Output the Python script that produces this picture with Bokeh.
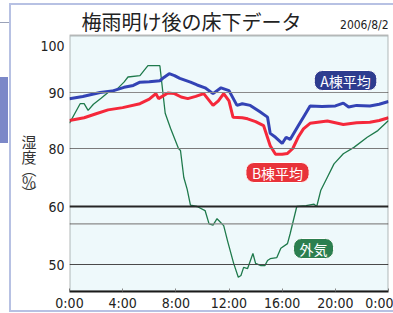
import numpy as np
from bokeh.plotting import figure
from bokeh.models import Span, Label, FixedTicker, LinearAxis, BoxAnnotation
from bokeh.embed import file_html
from bokeh.resources import INLINE

# ---------------- data ----------------
title_text = "梅雨明け後の床下データ"
date_text = "2006/8/2"
y_title_chars = ["湿", "度", "︵", "％", "︶"]

x_ticks = [0, 4, 8, 12, 16, 20, 24]
x_tick_labels = ["0:00", "4:00", "8:00", "12:00", "16:00", "20:00", "0:00"]
y_tick_values = [50, 60, 80, 90, 100]
grid_values = [90, 80, 60, 57, 50]

series_names = ["A棟平均", "B棟平均", "外気"]

a_hours = [0, 1.0, 2.3, 3.2, 4.1, 4.8, 5.3, 6.0, 6.8, 7.1, 7.5, 7.9, 8.3, 9.1, 9.6,
           10.2, 10.8, 11.4, 12.0, 12.6, 13.0, 13.6, 14.3, 14.9, 15.1, 15.5, 16.0,
           16.3, 16.6, 17.2, 17.7, 18.1, 19.0, 20.0, 20.6, 21.0, 21.6, 22.6, 23.3, 24]
a_vals = [88.9, 89.3, 90.0, 90.3, 91.1, 91.5, 92.2, 92.3, 92.5, 93.2, 94.0, 93.6, 93.0,
          92.2, 91.6, 91.0, 89.8, 91.0, 90.4, 87.7, 88.0, 87.7, 86.6, 85.6, 82.7, 82.0,
          80.9, 82.0, 81.6, 84.0, 86.0, 87.6, 87.5, 87.6, 88.1, 87.4, 87.7, 87.6, 87.9, 88.4]

b_hours = [0, 1.1, 2.0, 2.9, 4.0, 5.3, 6.0, 6.5, 6.7, 7.4, 7.9, 8.4, 8.9, 9.5, 10.1,
           10.8, 11.2, 11.6, 12.0, 12.3, 13.0, 13.4, 14.0, 14.6, 15.1, 15.5, 16.0,
           16.4, 16.8, 17.2, 17.6, 18.1, 19.4, 20.6, 21.6, 22.6, 23.3, 24]
b_vals = [85.0, 85.5, 86.2, 86.9, 87.3, 88.0, 88.8, 89.8, 88.9, 89.9, 89.8, 89.2, 88.9,
          89.3, 89.8, 87.7, 88.5, 89.8, 88.5, 85.6, 85.5, 85.3, 84.8, 84.1, 80.5, 78.0,
          78.0, 78.3, 80.0, 82.0, 83.5, 84.5, 84.9, 84.3, 84.6, 84.7, 85.0, 85.5]

o_hours = [0, 0.8, 1.1, 1.4, 1.8, 2.4, 2.9, 3.5, 4.1, 4.4, 5.3, 5.9, 6.8, 7.2, 7.6,
           8.2, 8.35, 8.6, 8.85, 9.1, 9.6, 10.2, 10.5, 10.8, 11.1, 11.6, 11.9, 12.35,
           12.7, 12.9, 13.1, 13.4, 13.8, 14.0, 14.4, 14.7, 14.9, 15.1, 15.6, 15.9, 16.4,
           16.6, 17.1, 17.8, 18.4, 18.6, 18.9, 19.4, 19.9, 20.6, 21.4, 22.4, 23.2, 24]
o_vals = [84.5, 88.0, 88.0, 86.8, 87.9, 89.0, 90.0, 90.5, 92.2, 93.3, 93.6, 95.7, 95.7,
          86.3, 83.6, 80.0, 79.3, 70.0, 66.0, 60.5, 60.0, 59.3, 57.0, 56.8, 57.9, 56.7,
          54.0, 50.2, 47.8, 48.1, 49.5, 49.3, 51.9, 50.2, 49.8, 49.8, 50.7, 51.0, 51.2,
          52.8, 53.6, 55.3, 60.0, 60.3, 60.8, 60.0, 65.5, 70.1, 74.7, 78.2, 80.2, 82.0,
          83.2, 85.0]

# broken (piecewise) humidity scale of the original chart
Y_VALUE_KNOTS = [40, 50, 60, 80, 90, 100, 110]
Y_DISPLAY_KNOTS = [-58, 0, 58, 116, 172, 219, 266]


def ymap(v):
    return np.interp(np.asarray(v, dtype=float), Y_VALUE_KNOTS, Y_DISPLAY_KNOTS)


NARROW = "DejaVu Sans Condensed"
CJK = "Noto Sans CJK JP"
PLOT_TOP = 229          # display units of the chart box top
Y_BOTTOM, Y_TOP = -27, 264

# page frame decoration (pure CSS background behind a transparent canvas)
frame_css = {
    "background-color": "white",
    "background-image": ", ".join(["linear-gradient(#7c88c8,#7c88c8)"]
                                  + ["linear-gradient(#b7c1e3,#b7c1e3)"] * 3
                                  + ["linear-gradient(#9aa2b8,#9aa2b8)"]),
    "background-size": "8px 66px, 2px 308px, 384px 2px, 384px 2px, 9px 1px",
    "background-position": "0px 77px, 9px 3px, 9px 3px, 9px 310px, 0px 22px",
    "background-repeat": "no-repeat",
}

p = figure(width=393, height=313, output_backend="svg", toolbar_location=None,
           x_range=(0, 24), y_range=(Y_BOTTOM, Y_TOP),
           min_border_left=69, min_border_right=5, min_border_top=0, min_border_bottom=22,
           background_fill_color=None, border_fill_color=None,
           outline_line_color=None, styles=frame_css)
p.xgrid.visible = False
p.ygrid.visible = False

# chart box background
p.add_layout(BoxAnnotation(left=0, right=24, bottom=Y_BOTTOM, top=PLOT_TOP,
                           fill_color="#eef9fb", fill_alpha=1, line_color=None,
                           level="underlay"))

# gridlines
grid_styles = {90: ("#8a8a8a", 1.2), 80: ("#7a7a7a", 1.2), 60: ("#262626", 2),
               57: ("#8a8a8a", 1.2), 50: ("#4a4a4a", 1.2)}
for g in grid_values:
    col, w = grid_styles[g]
    p.add_layout(Span(location=float(ymap(g)), dimension="width",
                      line_color=col, line_width=w))

# axes
p.yaxis.ticker = FixedTicker(ticks=[int(round(float(ymap(v)))) for v in y_tick_values])
p.yaxis.major_label_overrides = {int(round(float(ymap(v)))): str(v) for v in y_tick_values}
p.yaxis.major_tick_out = 0
p.yaxis.major_tick_in = 0
p.yaxis.minor_tick_line_color = None
p.yaxis.axis_line_color = None
p.yaxis.major_label_standoff = 5
p.yaxis.major_label_text_font = NARROW
p.yaxis.major_label_text_font_size = "14px"
p.yaxis.major_label_text_color = "#222222"

p.xaxis.ticker = FixedTicker(ticks=x_ticks)
p.xaxis.major_label_overrides = {t: l for t, l in zip(x_ticks, x_tick_labels)}
p.xaxis.major_tick_in = 3
p.xaxis.major_tick_out = 0
p.xaxis.major_tick_line_color = "#888888"
p.xaxis.minor_tick_line_color = None
p.xaxis.axis_line_width = 2
p.xaxis.axis_line_color = "#1a1a1a"
p.xaxis.major_label_standoff = 3
p.xaxis.major_label_text_font = NARROW
p.xaxis.major_label_text_font_size = "14px"
p.xaxis.major_label_text_color = "#222222"

# vertical (stacked) y-axis title, as an outer left axis
title_pos = [123, 108, 96, 83, 72]
ytitle_axis = LinearAxis(ticker=FixedTicker(ticks=title_pos),
                         major_label_overrides={t: c for t, c in zip(title_pos, y_title_chars)},
                         major_label_orientation="horizontal",
                         axis_line_color=None, major_tick_line_color=None,
                         minor_tick_line_color=None, major_tick_out=0, major_tick_in=0,
                         major_label_standoff=1, major_label_text_font=CJK,
                         major_label_text_font_size="15px", major_label_text_color="#333333")
p.add_layout(ytitle_axis, "left")

# series
p.line(o_hours, ymap(o_vals), line_color="#1f7a4c", line_width=1.3)
p.line(b_hours, ymap(b_vals), line_color="#f5283a", line_width=3)
p.line(a_hours, ymap(a_vals), line_color="#3343b5", line_width=3)

# chart box border
p.add_layout(BoxAnnotation(left=0, right=24, bottom=Y_BOTTOM, top=PLOT_TOP,
                           fill_color=None, line_color="#1a1a1a", line_width=2))

# pill labels
pills = [(series_names[0], 20.77, 184, "#2e3c8f"),
         (series_names[1], 15.65, 92, "#e8333a"),
         (series_names[2], 18.36, 16, "#2c7f4f")]
for txt, hx, dy, col in pills:
    p.add_layout(Label(x=hx, y=dy, text=txt, text_align="center", text_baseline="middle",
                       text_font=CJK, text_font_size="14px", text_color="white",
                       background_fill_color=col, border_line_color="white",
                       border_line_width=1, border_radius=8,
                       padding=dict(left=6, right=6, top=0, bottom=0)))

# title & date
p.add_layout(Label(x=9.18, y=243, text=title_text, text_align="center", text_baseline="middle",
                   text_font=CJK, text_font_size="20px", text_color="#222222"))
p.add_layout(Label(x=24.0, y=240, text=date_text, text_align="right", text_baseline="middle",
                   text_font=NARROW, text_font_size="12px", text_color="#222222"))

open("out.html", "w").write(file_html(p, INLINE))
